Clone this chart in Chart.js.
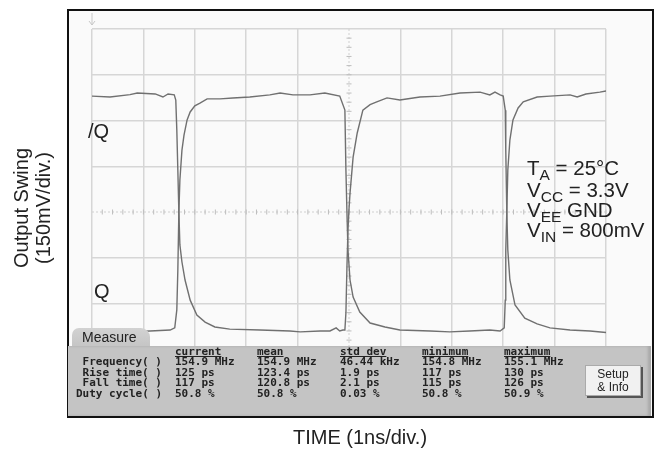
<!DOCTYPE html>
<html>
<head>
<meta charset="utf-8">
<script src="https://cdn.jsdelivr.net/npm/chart.js@4.4.1/dist/chart.umd.min.js"></script>
<style>
  html, body { margin: 0; padding: 0; background: #fff; }
  #wrap { position: relative; width: 655px; height: 453px; overflow: hidden; font-family: "Liberation Sans", Arial, sans-serif; color: #222; }
  #chart { position: absolute; left: 0; top: 0; }
  .lbl { position: absolute; white-space: nowrap; }
  .rot { position: absolute; white-space: nowrap; transform: translate(-50%, -50%) rotate(-90deg); font-size: 20px; }
  .ann { position: absolute; left: 527px; font-size: 20.5px; white-space: nowrap; line-height: 20px; }
  .ann sub { font-size: 15.5px; vertical-align: -5px; line-height: 0; }
  #tab { position: absolute; left: 72px; top: 328px; width: 78px; height: 20px; background: linear-gradient(#d2d2d2, #c4c4c4); border-radius: 7px 9px 0 0; z-index: 2; }
  #tab span { position: absolute; left: 10px; top: 1px; font-size: 14px; color: #222; }
  #panel { position: absolute; left: 68px; top: 346px; width: 583px; height: 70px; background: #c4c4c4; z-index: 2; box-shadow: inset -3px 0 3px #a8a8a8; }
  .mono { position: absolute; font-family: "DejaVu Sans Mono", monospace; font-size: 11px; font-weight: bold; line-height: 10.6px; color: #222; white-space: pre; z-index: 3; }
  .mono u { text-decoration: underline; }
  #btn { position: absolute; left: 585px; top: 365px; width: 56px; height: 31px; background: #f1f1f1; border: 1px solid #aaa; box-shadow: 2px 2px 0 #555; z-index: 3; font-size: 12px; line-height: 13px; text-align: center; padding-top: 2px; box-sizing: border-box; color: #222; }
</style>
</head>
<body>
<div id="wrap">
  <canvas id="chart" width="655" height="453"></canvas>

  <div class="rot" style="left:21px; top:208px;">Output Swing</div>
  <div class="rot" style="left:43px; top:208px;">(150mV/div.)</div>
  <div class="lbl" style="left:0; width:720px; text-align:center; top:426px; font-size:20px;">TIME (1ns/div.)</div>

  <div class="lbl" style="left:88px; top:120px; font-size:20px;">/Q</div>
  <div class="lbl" style="left:94px; top:280px; font-size:20px;">Q</div>

  <div class="ann" style="top:158px;">T<sub>A</sub> = 25°C</div>
  <div class="ann" style="top:180px;">V<sub>CC</sub> = 3.3V</div>
  <div class="ann" style="top:200px;">V<sub>EE</sub> GND</div>
  <div class="ann" style="top:220px;">V<sub>IN</sub> = 800mV</div>

  <div id="tab"><span>Measure</span></div>
  <div id="panel"></div>
  <div id="table"></div>
  <div id="btn">Setup<br>&amp; Info</div>
</div>

<script>
// measurement readout (scope panel)
const measureRows = ['Frequency( )', 'Rise time( )', 'Fall time( )', 'Duty cycle( )'];
const measureCols = ['current', 'mean', 'std dev', 'minimum', 'maximum'];
const currentVals = ['154.9 MHz', '125 ps', '117 ps', '50.8 %'];
const meanVals = ['154.9 MHz', '123.4 ps', '120.8 ps', '50.8 %'];
const stdDevVals = ['46.44 kHz', '1.9 ps', '2.1 ps', '0.03 %'];
const minVals = ['154.8 MHz', '117 ps', '115 ps', '50.8 %'];
const maxVals = ['155.1 MHz', '130 ps', '126 ps', '50.9 %'];

// traces: time in ns, level in mV
const qbarTime = [0, 0.35, 0.74, 0.88, 1.23, 1.38, 1.48, 1.60, 1.63, 1.65, 1.67, 1.69, 1.71, 1.75, 1.81, 1.91, 2.04, 2.20, 2.39, 2.68, 3.27, 3.85, 4.05, 4.44, 4.63, 4.75, 4.82, 4.88, 4.92, 4.94, 4.96, 4.98, 5.00, 5.02, 5.08, 5.16, 5.27, 5.41, 5.54, 5.74, 5.99, 6.38, 6.77, 7.16, 7.55, 7.74, 7.84, 7.94, 8.00, 8.04, 8.05, 8.07, 8.09, 8.13, 8.23, 8.42, 8.66, 8.91, 9.30, 9.69, 10.0];
const qbarVolt = [380, 377, 385, 390, 387, 377, 387, 384, 367, 269, 138, 0, -108, -164, -223, -289, -338, -361, -377, -384, -387, -390, -393, -390, -390, -380, -390, -387, -387, -330, -180, -60, 10, 62, 180, 259, 334, 352, 361, 374, 367, 377, 380, 390, 393, 384, 393, 384, 380, 334, 203, 0, -125, -223, -305, -348, -367, -380, -387, -390, -395];
const qTime = [0, 0.54, 1.13, 1.52, 1.61, 1.65, 1.67, 1.69, 1.71, 1.75, 1.79, 1.85, 1.91, 2.00, 2.10, 2.24, 2.49, 2.74, 3.07, 3.46, 3.66, 3.91, 4.24, 4.53, 4.82, 4.92, 4.94, 4.96, 4.98, 5.02, 5.08, 5.21, 5.41, 5.70, 5.99, 6.58, 6.96, 7.35, 7.74, 7.94, 8.02, 8.04, 8.05, 8.07, 8.09, 8.13, 8.19, 8.29, 8.39, 8.66, 8.91, 9.30, 9.44, 9.61, 9.88, 10.0];
const qVolt = [-393, -393, -390, -387, -380, -321, -190, 0, 105, 203, 252, 302, 328, 348, 357, 371, 371, 374, 377, 384, 390, 384, 384, 390, 380, 334, 138, 0, -125, -223, -279, -328, -364, -377, -387, -390, -393, -390, -387, -390, -380, -289, -125, 0, 138, 236, 302, 341, 361, 377, 380, 384, 377, 387, 393, 397];

const xTicks = [0, 1, 2, 3, 4, 5, 6, 7, 8, 9, 10];
const yTicks = [-600, -450, -300, -150, 0, 150, 300, 450, 600];

// build the readout text
const table = document.getElementById('table');
const colX = [175, 257, 340, 422, 504];
const colVals = [currentVals, meanVals, stdDevVals, minVals, maxVals];
function addText(txt, left, top, align) {
    const d = document.createElement('div');
    d.className = 'mono';
    d.style.top = top + 'px';
    if (align === 'right') {
        d.style.right = (655 - left) + 'px';
        d.style.textAlign = 'right';
    } else {
        d.style.left = left + 'px';
    }
    d.innerHTML = txt;
    table.appendChild(d);
}
measureCols.forEach((c, i) => addText('<u>' + c + '</u>', colX[i], 347));
measureRows.forEach((r, j) => {
    addText(r, 162, 357 + j * 10.6, 'right');
    colVals.forEach((vals, i) => addText(vals[j], colX[i], 357 + j * 10.6));
});

const pts = (t, v) => t.map((x, i) => ({ x: x, y: v[i] }));

// frame + scope screen background
const screenBg = {
    id: 'screenBg',
    beforeDraw(chart) {
        const c = chart.ctx;
        c.save();
        c.fillStyle = '#fff';
        c.fillRect(0, 0, chart.width, chart.height);
        c.fillStyle = '#fafafa';
        c.fillRect(68, 10, 585, 407);
        c.strokeStyle = '#111';
        c.lineWidth = 2;
        c.strokeRect(68, 10, 585, 407);
        // trigger marker
        c.strokeStyle = '#c8c8c8';
        c.lineWidth = 1;
        c.beginPath();
        c.moveTo(92, 13); c.lineTo(92, 25);
        c.moveTo(89, 21); c.lineTo(92, 25); c.lineTo(95, 21);
        c.stroke();
        c.restore();
    }
};

// centre graticule lines with minor ticks
const centreLines = {
    id: 'centreLines',
    beforeDatasetsDraw(chart) {
        const c = chart.ctx;
        const xs = chart.scales.x, ys = chart.scales.y;
        const a = chart.chartArea;
        const cx = xs.getPixelForValue(5), cy = ys.getPixelForValue(0);
        c.save();
        c.strokeStyle = '#d0d0d0';
        c.lineWidth = 1;
        c.setLineDash([2, 2]);
        c.beginPath();
        c.moveTo(a.left, cy); c.lineTo(a.right, cy);
        c.moveTo(cx, a.top); c.lineTo(cx, a.bottom);
        c.stroke();
        c.setLineDash([]);
        c.strokeStyle = '#bdbdbd';
        c.beginPath();
        for (let t = 0.2; t < 10; t += 0.2) {
            const px = xs.getPixelForValue(t);
            c.moveTo(px, cy - 2.5); c.lineTo(px, cy + 2.5);
        }
        for (let v = -570; v < 600; v += 30) {
            const py = ys.getPixelForValue(v);
            c.moveTo(cx - 2.5, py); c.lineTo(cx + 2.5, py);
        }
        c.stroke();
        c.restore();
    }
};

new Chart(document.getElementById('chart'), {
    type: 'line',
    data: {
        datasets: [
            { label: '/Q', data: pts(qbarTime, qbarVolt), borderColor: '#707070', borderWidth: 1.4, pointRadius: 0, tension: 0 },
            { label: 'Q', data: pts(qTime, qVolt), borderColor: '#707070', borderWidth: 1.4, pointRadius: 0, tension: 0 }
        ]
    },
    options: {
        responsive: false,
        animation: false,
        layout: { padding: { left: 92, right: 49, top: 29, bottom: 58 } },
        plugins: { legend: { display: false }, tooltip: { enabled: false } },
        scales: {
            x: {
                type: 'linear', min: 0, max: 10,
                afterBuildTicks: s => { s.ticks = xTicks.map(v => ({ value: v })); },
                ticks: { display: false },
                border: { display: false },
                grid: { drawTicks: false, lineWidth: 1.5, color: ctx => ctx.tick.value === 5 ? 'transparent' : '#d6d6d6' }
            },
            y: {
                type: 'linear', min: -600, max: 600,
                afterBuildTicks: s => { s.ticks = yTicks.map(v => ({ value: v })); },
                ticks: { display: false },
                border: { display: false },
                grid: { drawTicks: false, lineWidth: 1.5, color: ctx => ctx.tick.value === 0 ? 'transparent' : '#d6d6d6' }
            }
        }
    },
    plugins: [screenBg, centreLines]
});
</script>
</body>
</html>
